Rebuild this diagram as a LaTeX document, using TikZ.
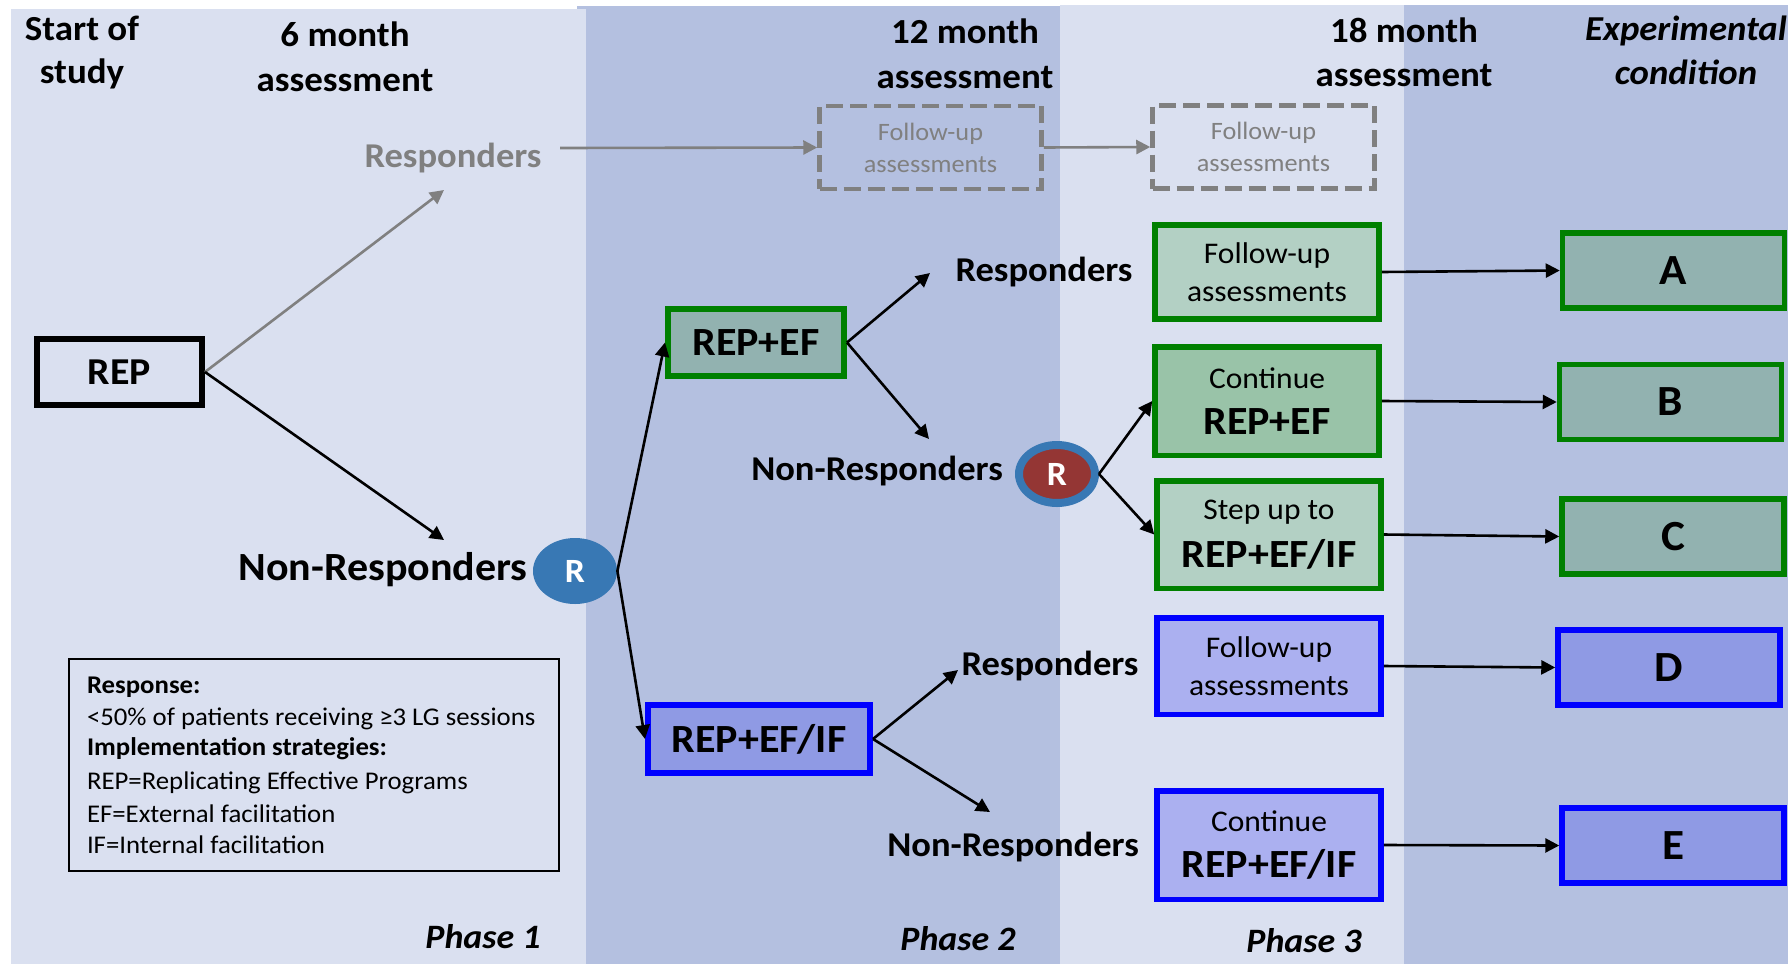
\documentclass[tikz,border=0pt]{standalone}
\usepackage{fontspec}
\setmainfont{Carlito}[FakeStretch=1.05]
\usetikzlibrary{shapes.geometric,arrows.meta,calc}

% palette
\definecolor{bandlight}{RGB}{218,224,240}
\definecolor{banddark}{RGB}{180,192,224}
\definecolor{rblue}{RGB}{56,120,180}
\definecolor{rred}{RGB}{148,54,52}
\definecolor{tealgray}{RGB}{146,178,176}
\definecolor{mintlight}{RGB}{179,208,196}
\definecolor{mintmid}{RGB}{153,195,168}
\definecolor{periwinkle}{RGB}{143,154,228}
\definecolor{periwinklelight}{RGB}{171,176,240}
\definecolor{boxgreen}{RGB}{0,128,0}
\definecolor{boxblue}{RGB}{0,0,255}
\definecolor{midgray}{RGB}{128,128,128}

\newcommand{\fsz}[2]{\fontsize{#1}{#2}\selectfont}

\begin{document}
\begin{tikzpicture}[x=0.5pt,y=-0.5pt,
  txt/.style={inner sep=0pt,outer sep=0pt,anchor=base},
  hdr/.style={txt,font=\fsz{17.6}{21}\bfseries},
  hdrit/.style={txt,font=\fsz{17.5}{21}\bfseries\itshape},
  phaselbl/.style={txt,font=\fsz{17.1}{21}\bfseries\itshape},
  outcome/.style={txt,font=\fsz{17.4}{21}\bfseries},
  legtxt/.style={inner sep=0pt,outer sep=0pt,anchor=base west,font=\fsz{12.75}{15}},
  stagebox/.style={rectangle,draw,line width=3pt,inner sep=0pt,font=\fsz{20}{24}\bfseries},
  armbox/.style={rectangle,draw,line width=2.75pt,inner sep=0pt,align=center,
    minimum width=112pt,font=\fsz{15}{18.75}},
  greenbox/.style={armbox,draw=boxgreen},
  bluebox/.style={armbox,draw=boxblue},
  condbox/.style={rectangle,draw,line width=2.75pt,inner sep=0pt,
    minimum width=111pt,minimum height=37.5pt,font=\fsz{21.5}{26}\bfseries},
  fubox/.style={rectangle,draw=midgray,line width=2.25pt,dash pattern=on 8.5pt off 3.5pt,
    inner sep=0pt,align=center,text=midgray,minimum width=111pt,minimum height=41.5pt,
    font=\fsz{12.5}{16}},
  randnode/.style={ellipse,inner sep=0pt,text=white,font=\fsz{17}{20}\bfseries},
  conn/.style={line width=1.3pt,-{Triangle[length=7pt,width=7pt]}},
  gconn/.style={conn,draw=midgray},
]
\useasboundingbox (0,0) rectangle (1788,964);
\fill[white] (0,0) rectangle (1788,964);

% phase bands
\fill[banddark] (577,6) rectangle (1060,964);
\fill[bandlight] (11,9) rectangle (586,964);
\fill[bandlight] (1060,5) rectangle (1404,964);
\fill[banddark] (1404,5) rectangle (1788,964);

% column headings
\node[hdr] (hStartA) at (82,40) {Start of};
\node[hdr] (hStartB) at (82,83) {study};
\node[hdr] (h6A) at (345,46) {6 month};
\node[hdr] (h6B) at (345,91) {assessment};
\node[hdr] (h12A) at (965,43) {12 month};
\node[hdr] (h12B) at (965,88) {assessment};
\node[hdr] (h18A) at (1404,42) {18 month};
\node[hdr] (h18B) at (1404,86) {assessment};
\node[hdrit] (hCondA) at (1686,40) {Experimental};
\node[hdrit] (hCondB) at (1686,84) {condition};

% phase labels
\node[phaselbl] (ph1) at (483,948) {Phase 1};
\node[phaselbl] (ph2) at (958,950) {Phase 2};
\node[phaselbl] (ph3) at (1304,952) {Phase 3};

% phase 1
\node[stagebox,minimum width=82.5pt,minimum height=33pt,font=\fsz{19}{23}\bfseries] (rep) at (119.5,372) {REP};
\node[outcome,text=midgray] (resp1) at (453,167) {Responders};
\node[outcome,font=\fsz{20}{24}\bfseries] (nonresp1) at (383,580) {Non-Responders};
\node[randnode,fill=rblue,minimum width=42pt,minimum height=33pt] (r1) at (575,571) {R};

% phase 2
\node[stagebox,draw=boxgreen,fill=tealgray,minimum width=88pt,minimum height=33.5pt] (repef) at (756,342.5) {REP+EF};
\node[stagebox,draw=boxblue,fill=periwinkle,minimum width=111pt,minimum height=34pt] (repefif) at (759,739) {REP+EF/IF};
\node[outcome] (resp2a) at (1044,281) {Responders};
\node[outcome] (nonresp2a) at (877,480) {Non-Responders};
\node[randnode,fill=rred,draw=rblue,line width=4pt,minimum width=38pt,minimum height=29pt] (r2) at (1057,474) {R};
\node[outcome] (resp2b) at (1050,675) {Responders};
\node[outcome] (nonresp2b) at (1013,856) {Non-Responders};

% follow-up of early responders
\node[fubox] (fu1) at (930.5,147.5) {Follow-up\\assessments};
\node[fubox] (fu2) at (1263.5,147) {Follow-up\\assessments};

% phase 3
\node[greenbox,fill=mintlight,minimum height=47pt] (p3fu) at (1267,272) {Follow-up\\assessments};
\node[greenbox,fill=mintmid,minimum height=54.25pt] (p3cont) at (1267,401) {Continue\\[4.5pt]{\fsz{20}{24}\bfseries REP+EF}};
\node[greenbox,fill=mintlight,minimum height=53.75pt] (p3step) at (1269,534.5) {Step up to\\[5pt]{\fsz{20}{24}\bfseries REP+EF/IF}};
\node[bluebox,fill=periwinklelight,minimum height=48.25pt] (p3fub) at (1269,666) {Follow-up\\assessments};
\node[bluebox,fill=periwinklelight,minimum height=54.25pt] (p3contb) at (1269,845) {Continue\\[4.5pt]{\fsz{20}{24}\bfseries REP+EF/IF}};

% experimental conditions
\node[condbox,draw=boxgreen,fill=tealgray] (cA) at (1673.5,270.5) {A};
\node[condbox,draw=boxgreen,fill=tealgray] (cB) at (1670.5,402) {B};
\node[condbox,draw=boxgreen,fill=tealgray] (cC) at (1673,536.5) {C};
\node[condbox,draw=boxblue,fill=periwinkle] (cD) at (1669,667.5) {D};
\node[condbox,draw=boxblue,fill=periwinkle] (cE) at (1673,845.5) {E};

% legend
\node[draw,line width=1pt,minimum width=245pt,minimum height=106pt,inner sep=0pt] (legend) at (314,765) {};
\node[legtxt,font=\fsz{12.75}{15}\bfseries] (leg1) at (87,693) {Response:};
\node[legtxt] (leg2) at (87,725) {<50\% of patients receiving ≥3 LG sessions};
\node[legtxt,font=\fsz{12.75}{15}\bfseries] (leg3) at (87,755) {Implementation strategies:};
\node[legtxt] (leg4) at (87,789) {REP=Replicating Effective Programs};
\node[legtxt] (leg5) at (87,822) {EF=External facilitation};
\node[legtxt] (leg6) at (87,853) {IF=Internal facilitation};

% connectors
\draw[gconn] (rep.east) -- ($(resp1.base)+(-9,23)$);
\draw[conn] (rep.east) -- ($(nonresp1.base)+(61,-40)$);
\draw[conn] (r1.east) -- (repef.west);
\draw[conn] (r1.east) -- (repefif.west);
\draw[conn] (repef.east) -- ($(resp2a.base)+(-114,-8)$);
\draw[conn] (repef.east) -- ($(nonresp2a.base)+(52,-41)$);
\draw[conn] (r2.east) -- (p3cont.west);
\draw[conn] (r2.east) -- (p3step.west);
\draw[conn] (repefif.east) -- ($(resp2b.base)+(-92,-5)$);
\draw[conn] (repefif.east) -- ($(nonresp2b.base)+(-23,-44)$);
\draw[gconn] ($(resp1.base)+(107,-19)$) -- (fu1.west);
\draw[gconn] (fu1.east) -- (fu2.west);
\draw[conn] (p3fu.east) -- (cA.west);
\draw[conn] (p3cont.east) -- (cB.west);
\draw[conn] (p3step.east) -- (cC.west);
\draw[conn] (p3fub.east) -- (cD.west);
\draw[conn] (p3contb.east) -- (cE.west);
\end{tikzpicture}
\end{document}
